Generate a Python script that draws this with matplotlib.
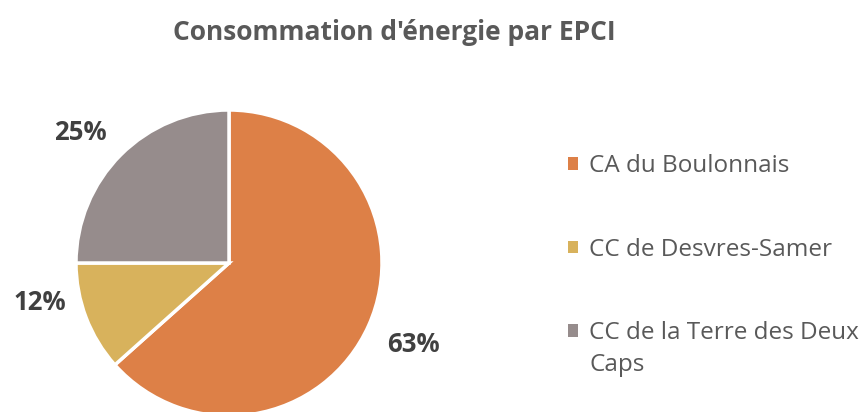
import matplotlib
matplotlib.use("Agg")
import matplotlib.pyplot as plt
from matplotlib.patches import Patch

categories = ["CA du Boulonnais", "CC de Desvres-Samer", "CC de la Terre des Deux Caps"]
values = [63.4, 11.6, 25.0]
colors = ["#DD8047", "#D8B25C", "#968C8C"]
title = "Consommation d'énergie par EPCI"

plt.rcParams['font.family'] = ['Open Sans', 'DejaVu Sans']

W, H = 861, 412
fig = plt.figure(figsize=(W / 100, H / 100), dpi=100)
ax = fig.add_axes([0, 0, 1, 1])

wedges, texts, autotexts = ax.pie(
    values, colors=colors, startangle=90, counterclock=False,
    center=(229, H - 263), radius=153, autopct='%.0f%%', pctdistance=1.3,
    wedgeprops=dict(edgecolor='white', linewidth=2.5),
    textprops=dict(fontsize=18.5, fontweight='bold', color='#404040'),
    frame=True)
ax.set_xlim(0, W)
ax.set_ylim(0, H)
ax.set_aspect('equal')
ax.axis('off')

# label placement (Excel "best fit" style)
label_xy = [(413, 345), (40, 302), (80, 132)]
for t, (x, y) in zip(autotexts, label_xy):
    t.set_position((x, H - y))

fig.text(394 / W, 1 - 33 / H, title, ha='center', va='center',
         fontsize=19, fontweight='bold', color='#595959')

# legend: wrap long labels, keeping the marker on the first line (Excel style)
max_chars = 24
first_lines, rest_lines = [], []
for c in categories:
    if len(c) > max_chars:
        cut = c.rfind(' ', 0, max_chars)
        first_lines.append(c[:cut])
        rest_lines.append(c[cut + 1:])
    else:
        first_lines.append(c)
        rest_lines.append('')

handles = [Patch(facecolor=c, edgecolor='none') for c in colors]
leg = fig.legend(handles, first_lines, loc='upper left',
                 bbox_to_anchor=(568 / W, 1 - 154 / H), frameon=False,
                 borderpad=0, borderaxespad=0,
                 fontsize=17.5, labelcolor='#595959', handlelength=0.42,
                 handleheight=0.42, handletextpad=0.45, labelspacing=2.45)
fig.canvas.draw()
renderer = fig.canvas.get_renderer()
for t, rest in zip(leg.get_texts(), rest_lines):
    if rest:
        bb = t.get_window_extent(renderer)
        fig.text(bb.x0 / W, (bb.y0 - 32) / H, rest, ha='left', va='bottom',
                 fontsize=17.5, color='#595959')

fig.savefig("out.png", dpi=100)
